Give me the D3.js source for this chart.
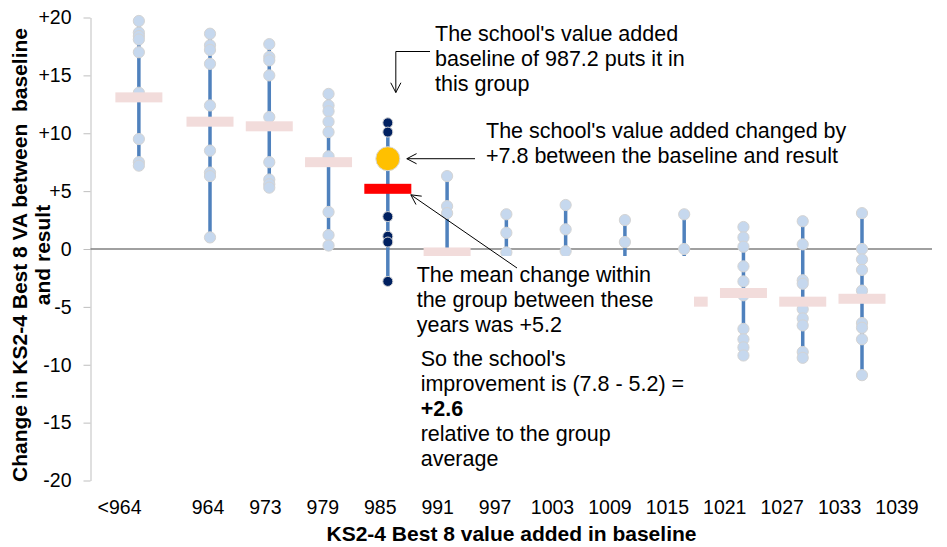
<!DOCTYPE html>
<html>
<head>
<meta charset="utf-8">
<script src="https://cdn.jsdelivr.net/npm/d3@7"></script>
<style>
  body { margin: 0; background: #fff; }
  text { font-family: "Liberation Sans", Arial, sans-serif; fill: #000; }
</style>
</head>
<body>
<svg id="svg"></svg>
<script>
// groups of schools by baseline VA
var groups = ['<964', '964', '973', '979', '985', '991', '997', '1003', '1009', '1015', '1021', '1027', '1033'];
var tickLabels = ['<964', '964', '973', '979', '985', '991', '997', '1003', '1009', '1015', '1021', '1027', '1033', '1039'];
var yTicks = [20, 15, 10, 5, 0, -5, -10, -15, -20];

// change in VA for each school in the group (lowest ones of 991-1015 sit under the text box)
var changes = [
  [19.7, 18.7, 18.4, 18.1, 17.0, 13.5, 9.5, 7.5, 7.2],
  [18.6, 17.6, 17.2, 16.0, 12.4, 8.5, 6.6, 6.3, 1.0],
  [17.7, 16.6, 16.3, 15.0, 11.4, 7.5, 6.0, 5.6, 5.3],
  [13.4, 12.4, 11.9, 11.0, 10.1, 8.0, 3.2, 1.2, 0.3],
  [10.9, 10.1, 2.8, 1.1, 0.6, -2.8],
  [6.3, 3.7, 3.1, -3.5],
  [3.0, 1.4, -0.3, -4.0],
  [3.8, 1.7, -0.2, -5.0],
  [2.5, 0.6, -6.0],
  [3.0, 0.0, -8.0],
  [1.9, 1.0, 0.2, -1.5, -2.8, -4.0, -6.9, -7.8, -8.5, -9.2],
  [2.4, 0.4, -2.7, -3.0, -5.2, -6.0, -6.6, -8.9, -9.4],
  [3.1, 0.0, -0.9, -1.8, -3.6, -6.4, -6.8, -7.8, -10.9]
];
var means = [13.1, 11.0, 10.6, 7.5, 5.2, -0.3, -2.0, -2.5, -3.5, -4.55, -3.8, -4.55, -4.3];

var schoolGroup = '985';
var schoolChange = 7.8;

/* basic setup */
var width = 947,
  height = 547;

var s = d3.select('#svg').attr('width', width).attr('height', height);

var scaleY = d3.scaleLinear().domain([-20, 20]).range([480.5, 17.5]);

// the first group sits a bit further left than the regular spacing
var scaleX = d3.scalePoint().domain(groups.slice(1)).range([210, 862]);
function colX(g) {
  return g === groups[0] ? scaleX(groups[1]) - 1.2 * scaleX.step() : scaleX(g);
}
// the category labels are typed under the chart, with their own spacing
var labelX = d3.scalePoint().domain(tickLabels.slice(1)).range([208, 897]);
function tickX(t) {
  return t === tickLabels[0] ? labelX(tickLabels[1]) - 1.54 * labelX.step() : labelX(t);
}

var pts = [];
groups.forEach(function (g, i) {
  changes[i].forEach(function (v) {
    pts.push({ g: g, v: v });
  });
});

// y axis
var axisY = d3.axisLeft(scaleY)
  .tickValues(yTicks)
  .tickSize(7)
  .tickSizeOuter(0)
  .tickPadding(12)
  .tickFormat(function (d) { return d > 0 ? '+' + d : String(d); });

var gy = s.append('g')
  .attr('transform', 'translate(90.5,0)')
  .call(axisY);
gy.select('.domain').attr('stroke', '#bfbfbf');
gy.selectAll('.tick line').attr('stroke', '#bfbfbf');
gy.selectAll('.tick text')
  .style('font-family', '"Liberation Sans", Arial, sans-serif')
  .style('font-size', '19.5px')
  .attr('fill', '#000');

// zero line
s.append('line')
  .attr('x1', 90.5).attr('x2', 932)
  .attr('y1', scaleY(0)).attr('y2', scaleY(0))
  .attr('stroke', '#808080').attr('stroke-width', 1.3);

// range lines
s.selectAll('line.range')
  .data(groups)
  .enter()
  .append('line')
  .attr('class', 'range')
  .attr('x1', function (d) { return colX(d); })
  .attr('x2', function (d) { return colX(d); })
  .attr('y1', function (d, i) { return scaleY(d3.max(changes[i])); })
  .attr('y2', function (d, i) { return scaleY(d3.min(changes[i])); })
  .attr('stroke', '#4f81bd')
  .attr('stroke-width', 3.5);

// schools
s.selectAll('circle.pt')
  .data(pts)
  .enter()
  .append('circle')
  .attr('class', 'pt')
  .attr('cx', function (d) { return colX(d.g); })
  .attr('cy', function (d) { return scaleY(d.v); })
  .attr('r', function (d) { return d.g === schoolGroup ? 5 : 5.6; })
  .attr('fill', function (d) { return d.g === schoolGroup ? '#002060' : '#c6d8ee'; })
  .attr('stroke', '#d4d4d4')
  .attr('stroke-width', 1);

// group means
s.selectAll('rect.mean')
  .data(groups)
  .enter()
  .append('rect')
  .attr('class', 'mean')
  .attr('x', function (d) { return colX(d) - 23.5; })
  .attr('y', function (d, i) { return scaleY(means[i]) - 5; })
  .attr('width', 47)
  .attr('height', 10)
  .attr('fill', function (d) { return d === schoolGroup ? '#ff0000' : '#f2dcdb'; });

// the school
s.append('circle')
  .attr('cx', colX(schoolGroup))
  .attr('cy', scaleY(schoolChange))
  .attr('r', 12)
  .attr('fill', '#ffc000')
  .attr('stroke', '#d9d9d9')
  .attr('stroke-width', 1);

// x labels
s.selectAll('text.xl')
  .data(tickLabels)
  .enter()
  .append('text')
  .attr('class', 'xl')
  .attr('x', function (d) { return tickX(d); })
  .attr('y', 514)
  .attr('text-anchor', 'middle')
  .style('font-size', '19.5px')
  .text(function (d) { return d; });

// axis titles
s.append('text')
  .attr('x', 511.5).attr('y', 541)
  .attr('text-anchor', 'middle')
  .style('font-size', '21px').style('font-weight', 'bold')
  .text('KS2-4 Best 8 value added in baseline');

var yt = s.append('text')
  .attr('transform', 'translate(0,255) rotate(-90)')
  .attr('text-anchor', 'middle')
  .style('font-size', '21px').style('font-weight', 'bold');
yt.append('tspan').attr('x', 0).attr('y', 27).text('Change in KS2-4 Best 8 VA between\u00a0 baseline');
yt.append('tspan').attr('x', 0).attr('y', 50).text('and result');

// white text box hiding the lower part of the middle groups
s.append('rect')
  .attr('x', 405).attr('y', 256)
  .attr('width', 289).attr('height', 219)
  .attr('fill', '#fff');

// lines are plain strings, or {text, bold} for the bold one
function block(x, y0, lines) {
  var t = s.append('text').style('font-size', '21.5px');
  lines.forEach(function (l, i) {
    var isObj = typeof l === 'object';
    t.append('tspan')
      .attr('x', x).attr('y', y0 + i * 25)
      .style('font-weight', isObj && l.bold ? 'bold' : 'normal')
      .text(isObj ? l.text : l);
  });
}

block(435, 40.5, ["The school's value added", 'baseline of 987.2 puts it in', 'this group']);
block(486, 138.3, ["The school's value added changed by", '+7.8 between the baseline and result']);
block(416.7, 281.7, ['The mean change within', 'the group between these', 'years was +5.2']);
block(420.7, 365.7, ["So the school's", 'improvement is (7.8 - 5.2) =', { text: '+2.6', bold: true }, 'relative to the group', 'average']);

// arrows
function arrow(points, tip, back) {
  s.append('path')
    .attr('d', d3.line()(points))
    .attr('fill', 'none').attr('stroke', '#000').attr('stroke-width', 1);
  var a = Math.atan2(back[1] - tip[1], back[0] - tip[0]);
  var l = 11, h = 0.48;
  s.append('path')
    .attr('d', d3.line()([
      [tip[0] + l * Math.cos(a - h), tip[1] + l * Math.sin(a - h)],
      tip,
      [tip[0] + l * Math.cos(a + h), tip[1] + l * Math.sin(a + h)]
    ]))
    .attr('fill', 'none').attr('stroke', '#000').attr('stroke-width', 1);
}

var bx = colX(schoolGroup);
arrow([[430, 51.5], [bx + 8, 51.5], [bx + 8, 92.5]], [bx + 8, 92.5], [bx + 8, 51.5]);
arrow([[475, scaleY(schoolChange)], [bx + 19, scaleY(schoolChange)]], [bx + 19, scaleY(schoolChange)], [475, scaleY(schoolChange)]);
arrow([[517, 268], [bx + 23, scaleY(5.2) + 6]], [bx + 23, scaleY(5.2) + 6], [517, 268]);
</script>
</body>
</html>
